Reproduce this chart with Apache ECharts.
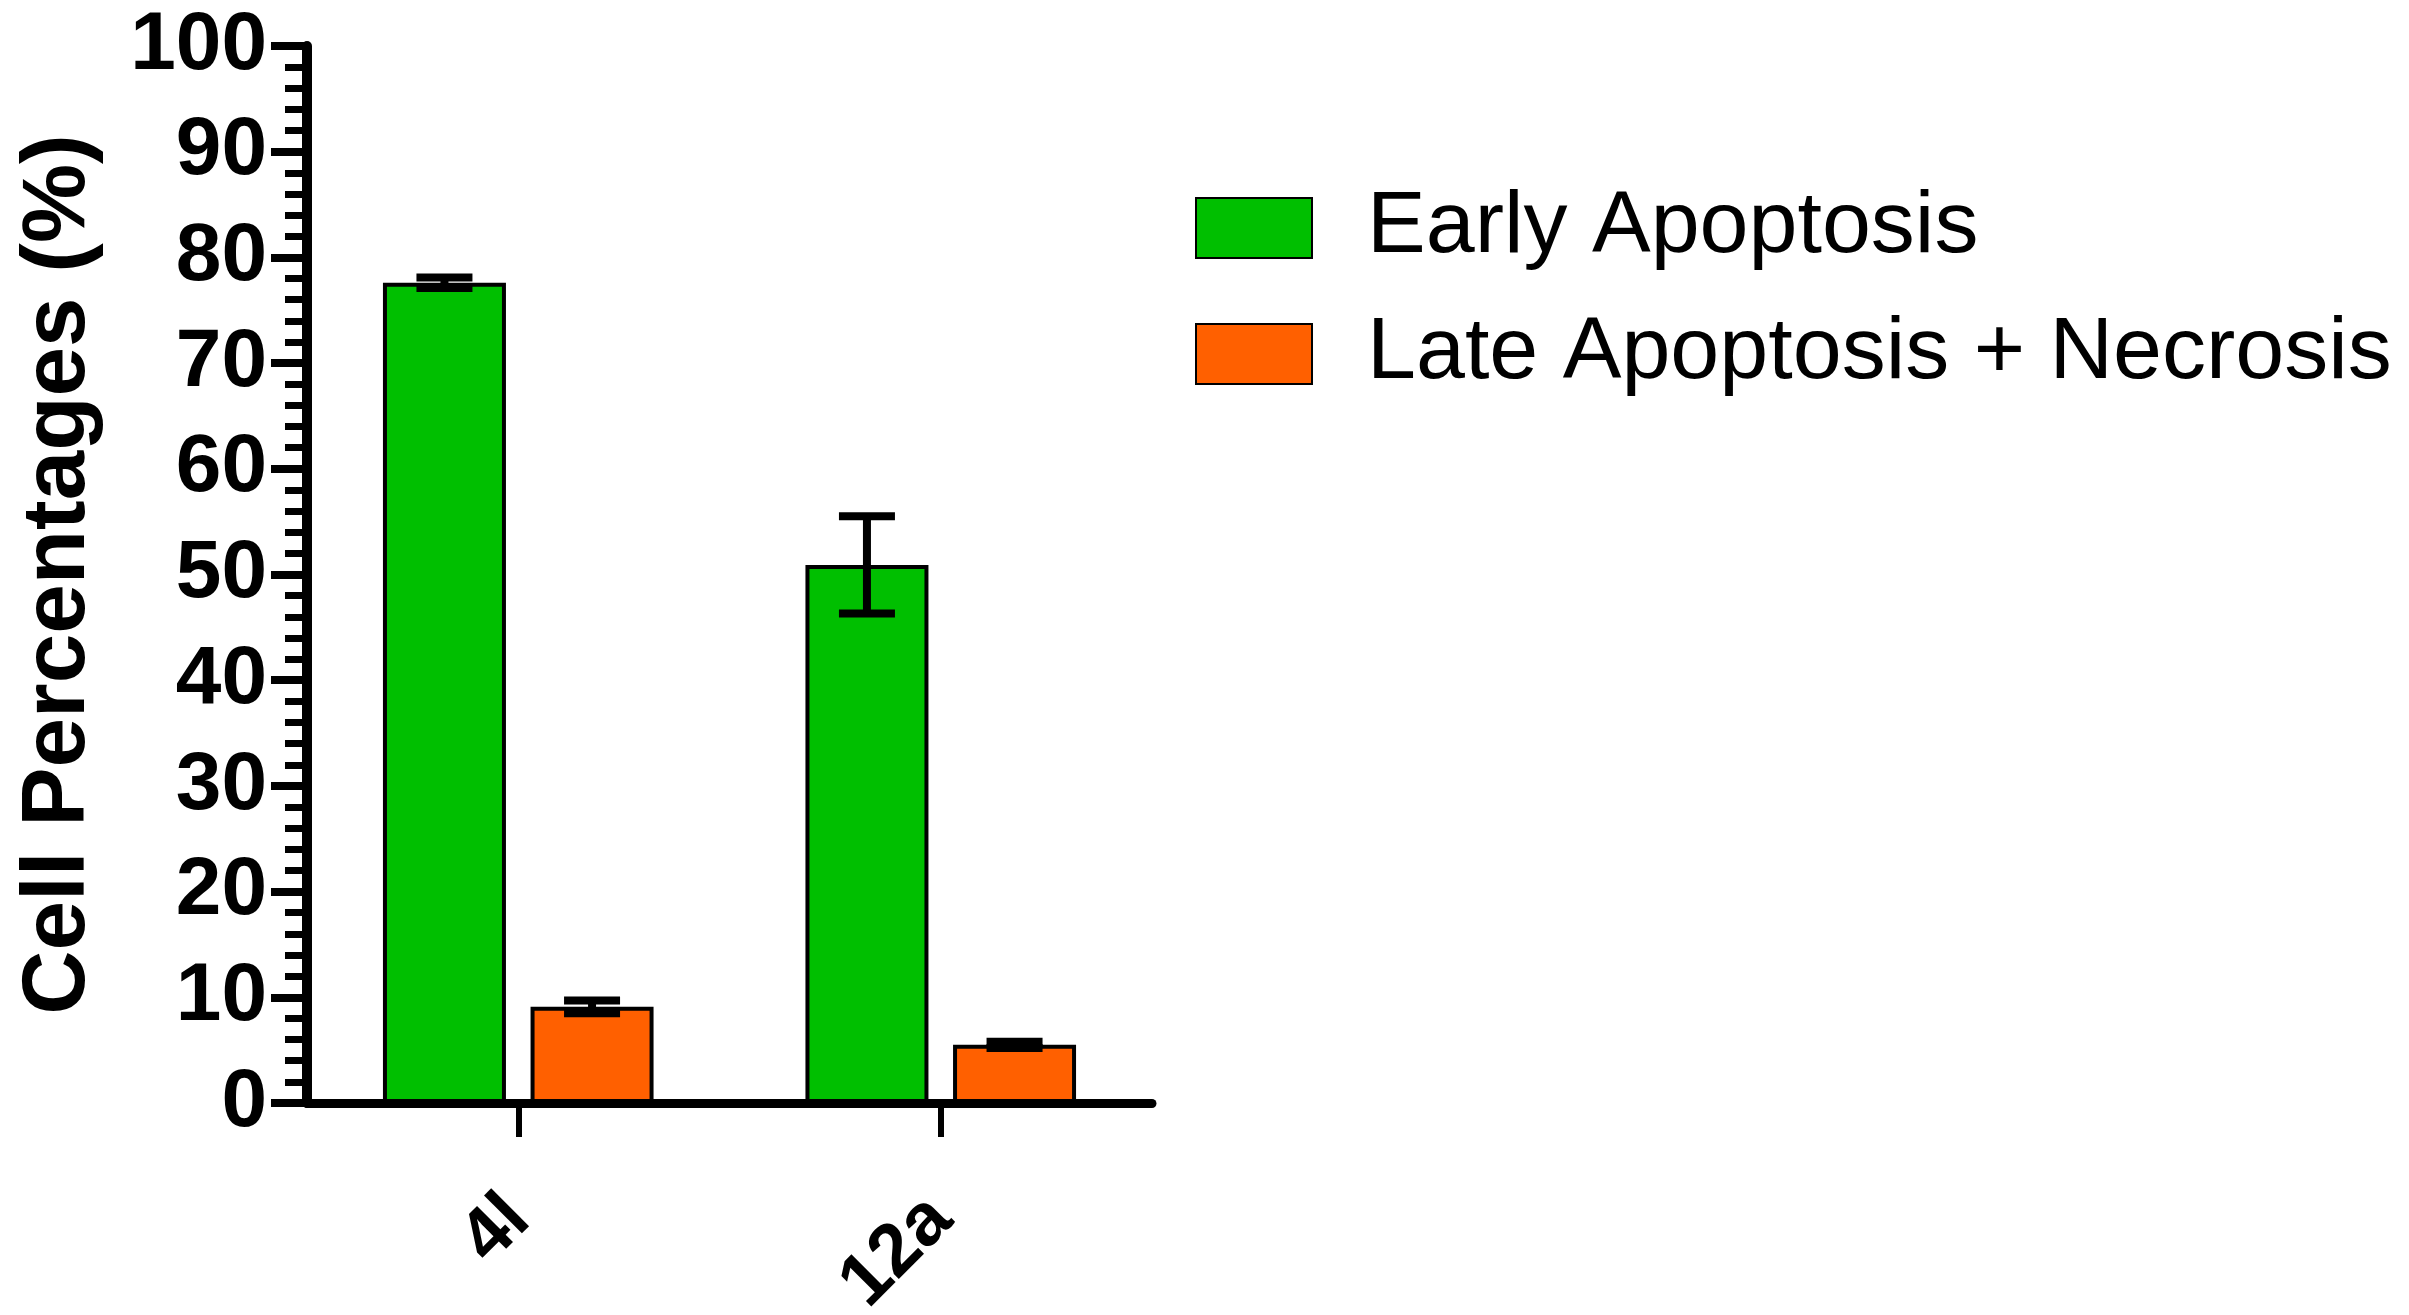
<!DOCTYPE html>
<html>
<head>
<meta charset="utf-8">
<script src="https://cdn.jsdelivr.net/npm/echarts@6/dist/echarts.min.js"></script>
<style>
  html, body { margin: 0; padding: 0; background: #fff; }
  #chart { width: 2409px; height: 1315px; }
</style>
</head>
<body>
<div id="chart"></div>
<script>
const categories = ['4l', '12a']
const seriesNames = ['Early Apoptosis', 'Late Apoptosis + Necrosis']
const earlyValues = [77.6, 50.9]
const earlyErrors = [0.5, 4.6]
const lateValues = [9.1, 5.5]
const lateErrors = [0.6, 0.3]
const yTicks = [0, 100, 10]

const font = 'Arial, "Liberation Sans", sans-serif'
const BAR_W = 123
const BAR_GAP = 0.2

function errorData(values, errors) {
  return values.map((v, i) => [i, v, errors[i]])
}

function errorSeries(values, errors, side) {
  const offset = side * (BAR_W + BAR_W * BAR_GAP) / 2
  return {
    type: 'custom',
    z: 10,
    silent: true,
    data: errorData(values, errors),
    renderItem(params, api) {
      const i = api.value(0)
      const v = api.value(1)
      const e = api.value(2)
      const top = api.coord([i, v + e])
      const bot = api.coord([i, v - e])
      const x = top[0] + offset
      const cap = 28
      const style = { stroke: '#000', lineWidth: 8 }
      return {
        type: 'group',
        children: [
          { type: 'line', shape: { x1: x, y1: top[1], x2: x, y2: bot[1] }, style },
          { type: 'line', shape: { x1: x - cap, y1: top[1], x2: x + cap, y2: top[1] }, style },
          { type: 'line', shape: { x1: x - cap, y1: bot[1], x2: x + cap, y2: bot[1] }, style }
        ]
      }
    }
  }
}

const chart = echarts.init(document.getElementById('chart'))
chart.setOption({
  animation: false,
  backgroundColor: '#fff',
  grid: { left: 307, right: 1257, top: 46, bottom: 212, outerBoundsMode: 'none', containLabel: false },
  legend: {
    orient: 'vertical',
    left: 1190,
    top: 179,
    itemWidth: 116,
    itemHeight: 60,
    itemGap: 38,
    icon: 'rect',
    textStyle: { fontFamily: font, fontSize: 88, color: '#000', padding: [0, 0, 0, 50] },
    data: seriesNames
  },
  xAxis: {
    type: 'category',
    data: categories,
    axisLine: { lineStyle: { color: '#000', width: 9 } },
    axisTick: { show: true, alignWithLabel: true, length: 34, lineStyle: { color: '#000', width: 6 } },
    axisLabel: {
      rotate: 45,
      margin: 105,
      fontFamily: font,
      fontWeight: 'bold',
      fontSize: 74,
      color: '#000'
    }
  },
  yAxis: {
    type: 'value',
    min: yTicks[0],
    max: yTicks[1],
    interval: yTicks[2],
    name: 'Cell Percentages (%)',
    nameLocation: 'middle',
    nameGap: 203,
    nameTextStyle: { fontFamily: font, fontWeight: 'bold', fontSize: 89, color: '#000' },
    axisLine: { show: true, lineStyle: { color: '#000', width: 10 } },
    axisTick: { show: true, length: 36, lineStyle: { color: '#000', width: 8 } },
    minorTick: { show: true, splitNumber: 5, length: 22, lineStyle: { color: '#000', width: 7 } },
    splitLine: { show: false },
    axisLabel: {
      margin: 40,
      fontFamily: font,
      fontWeight: 'bold',
      fontSize: 82,
      color: '#000'
    }
  },
  series: [
    {
      name: seriesNames[0],
      type: 'bar',
      data: earlyValues,
      barWidth: BAR_W,
      barGap: (BAR_GAP * 100) + '%',
      itemStyle: { color: '#00bf00', borderColor: '#000', borderWidth: 4 }
    },
    {
      name: seriesNames[1],
      type: 'bar',
      data: lateValues,
      barWidth: BAR_W,
      barGap: (BAR_GAP * 100) + '%',
      itemStyle: { color: '#ff6000', borderColor: '#000', borderWidth: 4 }
    },
    errorSeries(earlyValues, earlyErrors, -1),
    errorSeries(lateValues, lateErrors, 1)
  ]
})
</script>
</body>
</html>
